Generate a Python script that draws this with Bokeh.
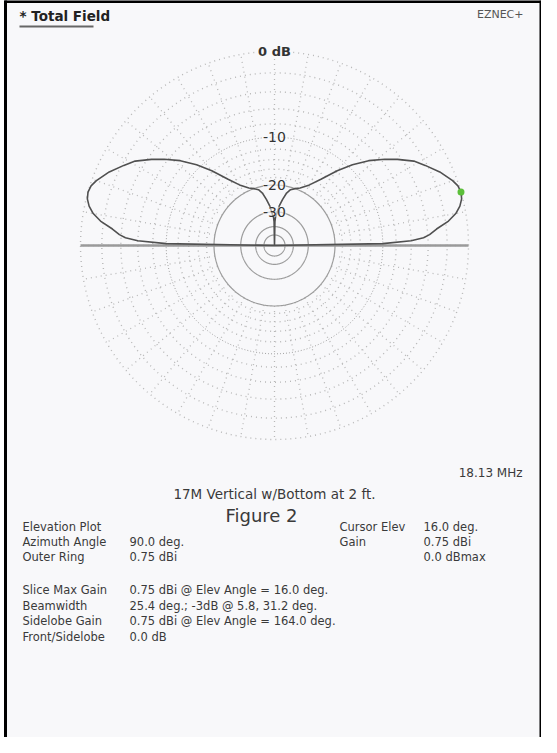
import numpy as np
from bokeh.plotting import figure
from bokeh.models import Label, Range1d
from bokeh.embed import file_html
from bokeh.resources import INLINE

# ---- data (elevation pattern, one side; mirrored for 90..180 deg) ----
elev_deg = [0, 1, 2, 3, 4, 5.8, 8, 10, 12, 14, 16, 18, 20, 24, 28, 31.2, 35, 38,
            42, 46, 50, 55, 60, 66, 70, 74, 77, 80, 83, 85, 88, 89, 90]
gain_db = [-99, -10, -6, -4.5, -3.8, -3, -1.7, -0.9, -0.4, -0.1, 0, -0.1, -0.4,
           -1.2, -2.2, -3, -4.4, -5.6, -7.3, -9.4, -11.8, -15, -17.5, -19.3, -20,
           -20.7, -22, -24.4, -27, -30, -33, -36, -99]
cursor_elev = 16.0
cursor_gain_db = 0.0

ring_dotted_db = [0, -2, -4, -6, -8, -12, -14, -16, -18]
ring_fine_db = [-10]
ring_solid_db = [-20, -30, -40, -50]
ring_label_db = [-10, -20, -30]
ring_label_text = ["-10", "-20", "-30"]
spoke_deg = list(range(0, 360, 10))

title_text = "* Total Field"
brand_text = "EZNEC+"
freq_text = "18.13 MHz"
desc_text = "17M Vertical w/Bottom at 2 ft."
fig_text = "Figure 2"
left_keys = ["Elevation Plot", "Azimuth Angle", "Outer Ring"]
left_vals = ["", "90.0 deg.", "0.75 dBi"]
right_keys = ["Cursor Elev", "Gain", ""]
right_vals = ["16.0 deg.", "0.75 dBi", "0.0 dBmax"]
stat_keys = ["Slice Max Gain", "Beamwidth", "Sidelobe Gain", "Front/Sidelobe"]
stat_vals = ["0.75 dBi @ Elev Angle = 16.0 deg.",
             "25.4 deg.; -3dB @ 5.8, 31.2 deg.",
             "0.75 dBi @ Elev Angle = 164.0 deg.",
             "0.0 dB"]

FONT = "DejaVu Sans"
PAPER = "#f8f8fa"
W, H = 541, 737
CX, CY, R = 282.0, 253.0, 194.0   # page px of pole and outer ring radius


def arrl(db):
    db = np.asarray(db, dtype=float)
    r = 0.89 ** (-db / 2.0)
    return np.where(db <= -90, 0.0, r)


def dx(px):
    return (px - CX) / R


def dy(py):
    return (CY - py) / R


p = figure(width=W, height=H, output_backend="svg", toolbar_location=None,
           x_range=Range1d(dx(8), dx(8 + W)), y_range=Range1d(dy(8 + H), dy(8)),
           min_border=0, outline_line_color=None,
           background_fill_color="#ffffff", border_fill_color="#ffffff")
p.axis.visible = False
p.grid.visible = False

# paper
p.quad(left=dx(14), right=dx(548), top=dy(7), bottom=dy(8 + H), fill_color=PAPER,
       line_color=None)
# frame lines
p.line([dx(13), dx(13)], [dy(5), dy(8 + H)], line_color="black", line_width=3)
p.line([dx(12), dx(549)], [dy(9), dy(9)], line_color="black", line_width=3)
p.line([dx(548), dx(548)], [dy(8), dy(8 + H)], line_color="black", line_width=2)

t = np.linspace(0, 2 * np.pi, 361)
# spokes
r_in = float(arrl([-20])[0])
for a in spoke_deg:
    ar = np.deg2rad(a)
    p.line([r_in * np.cos(ar), np.cos(ar)], [r_in * np.sin(ar), np.sin(ar)],
           line_color="#b8b8b8", line_width=1.3, line_dash="1 4")
for db in ring_dotted_db:
    r = float(arrl([db])[0])
    p.line(r * np.cos(t), r * np.sin(t), line_color="#b8b8b8", line_width=1.4,
           line_dash="1 4")
for db in ring_fine_db:
    r = float(arrl([db])[0])
    p.line(r * np.cos(t), r * np.sin(t), line_color="#a0a0a0", line_width=1,
           line_dash="1 2")
for db in ring_solid_db:
    r = float(arrl([db])[0])
    p.line(r * np.cos(t), r * np.sin(t), line_color="#9c9c9c", line_width=1.2)

# ground line
p.line([-1, 1], [0, 0], line_color="#9a9a9a", line_width=2.5)

# pattern
ang = np.deg2rad(np.array(elev_deg))
rr = arrl(gain_db)
xs = np.concatenate([rr * np.cos(ang), (rr * np.cos(np.pi - ang))[::-1]])
ys = np.concatenate([rr * np.sin(ang), (rr * np.sin(np.pi - ang))[::-1]])
p.line(xs, ys, line_color="#505050", line_width=1.6)

# cursor dot
rc = float(arrl([cursor_gain_db])[0])
p.scatter([rc * np.cos(np.deg2rad(cursor_elev))], [rc * np.sin(np.deg2rad(cursor_elev))],
          size=7, fill_color="#5cbf3a", line_color=None)

# ring labels
for db, txt in zip(ring_label_db, ring_label_text):
    r = float(arrl([db])[0])
    p.add_layout(Label(x=0, y=r, text=txt, text_align="center", text_baseline="middle",
                       text_font=FONT, text_font_size="14px", text_color="#333333",
                       background_fill_color=PAPER, background_fill_alpha=0.6))
p.add_layout(Label(x=0, y=1, text="0 dB", text_align="center", text_baseline="middle",
                   text_font=FONT, text_font_size="13px", text_font_style="bold",
                   text_color="#333333", background_fill_color=PAPER))


def lab(px, py, txt, size="11.5px", align="left", style="normal", color="#3a3a3a"):
    p.add_layout(Label(x=px - 8, y=8 + H - py, x_units="screen", y_units="screen",
                       text=txt, text_align=align, text_baseline="middle",
                       text_font=FONT, text_font_size=size, text_font_style=style,
                       text_color=color))


lab(27, 23, title_text, size="13.5px", style="bold", color="#222222")
p.line([dx(27), dx(101)], [dy(34), dy(34)], line_color="#666666", line_width=2)
lab(531, 22, brand_text, size="11px", align="right", color="#555555")
lab(530, 480, freq_text, size="12px", align="right")
lab(282, 501.5, desc_text, size="13.5px", align="center")
lab(269, 523, fig_text, size="18px", align="center")
for i in range(3):
    y = 534 + 15.3 * i
    lab(30, y, left_keys[i])
    lab(137, y, left_vals[i])
    lab(347, y, right_keys[i])
    lab(431, y, right_vals[i])
for i in range(4):
    y = 597.5 + 15.6 * i
    lab(30, y, stat_keys[i])
    lab(137, y, stat_vals[i])

open("out.html", "w").write(file_html(p, INLINE))
